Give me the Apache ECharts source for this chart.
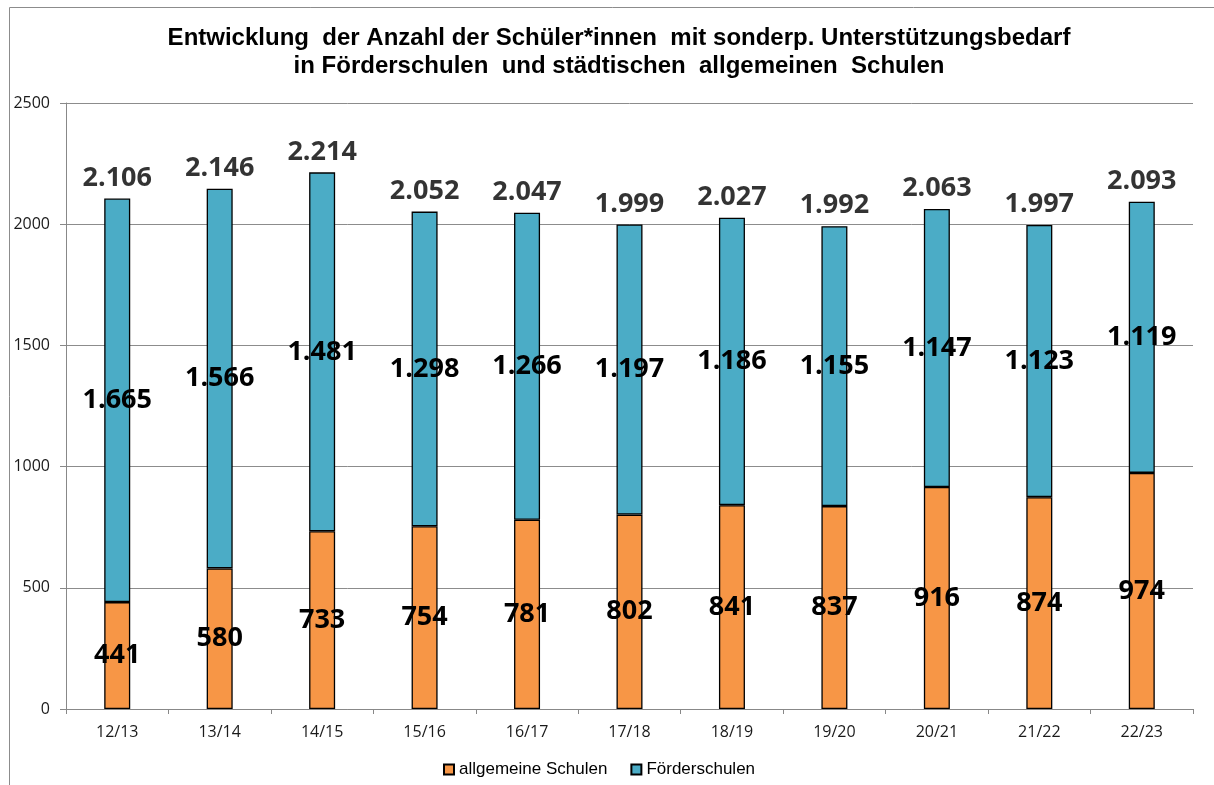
<!DOCTYPE html>
<html>
<head>
<meta charset="utf-8">
<script src="https://cdn.jsdelivr.net/npm/echarts@6/dist/echarts.min.js"></script>
<style>
  html, body { margin: 0; padding: 0; background: #fff; }
  #chart { width: 1214px; height: 785px; }
</style>
</head>
<body>
<div id="chart"></div>
<script>
// Schuljahre
const years = ["12/13", "13/14", "14/15", "15/16", "16/17", "17/18", "18/19", "19/20", "20/21", "21/22", "22/23"];
// Schüler*innen in allgemeinen Schulen
const allgemeine = [441, 580, 733, 754, 781, 802, 841, 837, 916, 874, 974];
// Schüler*innen in Förderschulen
const foerder = [1665, 1566, 1481, 1298, 1266, 1197, 1186, 1155, 1147, 1123, 1119];
// Summe (Beschriftung über den Säulen)
const gesamt = [2106, 2146, 2214, 2052, 2047, 1999, 2027, 1992, 2063, 1997, 2093];

// deutsche Tausenderpunkte
function fmt(v) {
  return String(v).replace(/\B(?=(\d{3})+(?!\d))/g, ".");
}

const labelFont = {
  fontFamily: "Open Sans",
  fontWeight: "bold",
  fontSize: 27,
  color: "#000"
};

const chart = echarts.init(document.getElementById("chart"));

const option = {
  animation: false,
  backgroundColor: "#fff",
  graphic: [
    {
      type: "rect",
      shape: { x: 9.5, y: 7.5, width: 1400, height: 1000 },
      style: { fill: "none", stroke: "#8c8c8c", lineWidth: 1 },
      silent: true
    }
  ],
  title: {
    text: "Entwicklung  der Anzahl der Schüler*innen  mit sonderp. Unterstützungsbedarf\nin Förderschulen  und städtischen  allgemeinen  Schulen",
    left: 614,
    top: 19,
    textAlign: "center",
    textStyle: {
      fontFamily: "Liberation Sans",
      fontWeight: "bold",
      fontSize: 24,
      lineHeight: 28,
      color: "#000"
    }
  },
  legend: {
    data: ["allgemeine Schulen", "Förderschulen"],
    left: 438,
    top: 756,
    itemWidth: 10,
    itemHeight: 10,
    itemGap: 23,
    icon: "rect",
    textStyle: { fontFamily: "Liberation Sans", fontSize: 17, color: "#000" }
  },
  grid: { left: 66, right: 21, top: 103, bottom: 76 },
  xAxis: {
    type: "category",
    data: years,
    axisLine: { lineStyle: { color: "#888", width: 1 } },
    axisTick: { show: true, length: 5, lineStyle: { color: "#888" } },
    axisLabel: { fontFamily: "Open Sans", fontSize: 16, color: "#1a1a1a", margin: 15 }
  },
  yAxis: {
    type: "value",
    min: 0,
    max: 2500,
    interval: 500,
    axisLine: { show: true, lineStyle: { color: "#888", width: 1 } },
    axisTick: { show: true, length: 6, lineStyle: { color: "#888" } },
    axisLabel: { fontFamily: "Open Sans", fontSize: 16, color: "#1a1a1a", margin: 16, formatter: v => String(v) },
    splitLine: { lineStyle: { color: "#8c8c8c", width: 1 } }
  },
  series: [
    {
      name: "allgemeine Schulen",
      type: "bar",
      stack: "schueler",
      barWidth: 26,
      data: allgemeine,
      itemStyle: { color: "#F79646", borderColor: "#000", borderWidth: 1.3 },
      label: Object.assign({ show: true, position: "inside", formatter: p => fmt(p.value) }, labelFont)
    },
    {
      name: "Förderschulen",
      type: "bar",
      stack: "schueler",
      barWidth: 26,
      data: foerder,
      itemStyle: { color: "#4BACC6", borderColor: "#000", borderWidth: 1.3 },
      label: Object.assign({ show: true, position: "inside", formatter: p => fmt(p.value) }, labelFont)
    },
    {
      name: "Gesamt",
      type: "scatter",
      data: gesamt,
      symbolSize: 0,
      silent: true,
      label: Object.assign({ show: true, position: "top", distance: 7, formatter: p => fmt(p.value) }, labelFont)
    }
  ]
};

chart.setOption(option);
</script>
</body>
</html>
